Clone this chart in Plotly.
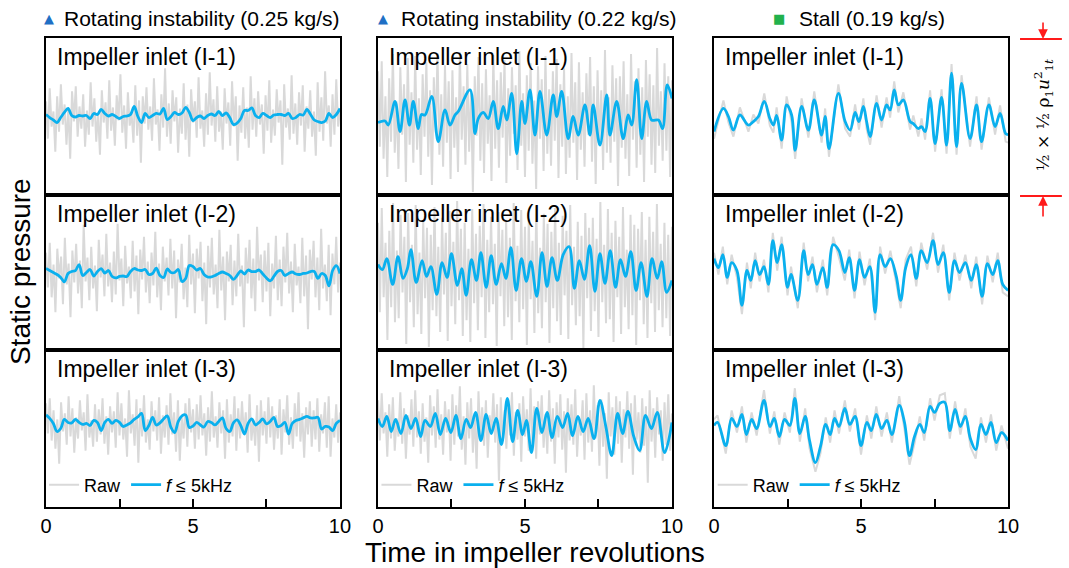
import numpy as np
import plotly.graph_objects as go
from plotly.subplots import make_subplots

# ---------------- data (units: fraction of panel scale, 0 = panel centre) ----------------
COL_TITLES = ["Rotating instability (0.25 kg/s)", "Rotating instability (0.22 kg/s)", "Stall (0.19 kg/s)"]
COL_MARKERS = ["\u25B2", "\u25B2", "\u25A0"]
MARKER_COLORS = ["#1F6FC5", "#1F6FC5", "#22B14C"]
ROW_LABELS = ["Impeller inlet (I-1)", "Impeller inlet (I-2)", "Impeller inlet (I-3)"]
X_TICKS = [0, 2.5, 5, 7.5, 10]
X_TICKTEXT = ["0", "", "5", "", "10"]

# column 1 (0.25 kg/s): uniform time grid
FILT_C1R1 = [0.2,-0.1,-0.35,-0.6,-0.1,0.4,0.8,0.1,-0.05,0.1,0.05,0.1,-0.2,0.3,0.2,0.7,0.3,0.05,0.2,0.0,-0.2,0.0,0.05,0.2,1.0,0.0,-0.6,0.3,-0.1,0.1,0.3,0.25,0.8,-0.3,0.0,0.4,0.2,0.35,0.9,0.4,-0.4,-0.1,0.05,-0.2,0.1,0.25,0.1,0.5,0.1,0.35,-0.1,-0.8,-0.65,-0.2,0.6,0.6,0.85,0.1,-0.1,0.3,0.1,-0.1,0.15,0.2,0.2,0.1,0.3,-0.2,-0.1,0.2,0.15,0.7,0.2,-0.35,-0.5,-0.6,-0.45,0.3,-0.1,0.2,0.8]
FILT_C1R2 = [0.4,0.2,0.0,-0.2,-0.5,-0.95,-0.1,0.1,0.2,0.8,-0.3,0.0,0.3,-0.35,0.1,0.4,-0.05,0.2,-0.4,-0.55,-0.4,-0.35,-0.4,0.1,0.4,0.25,0.2,0.3,-0.2,-0.1,0.45,-0.3,-0.5,0.35,0.0,0.0,0.3,-0.9,-0.6,0.7,0.6,0.25,0.4,-0.2,-0.45,-0.45,-0.3,-0.1,0.05,-0.1,-0.3,-0.7,-0.3,0.15,-0.15,0.25,0.1,0.1,0.25,-0.15,-0.55,-0.85,-0.4,0.1,0.2,-0.3,-0.1,0.05,-0.15,-0.2,-0.1,-0.05,0.1,0.1,-0.6,-0.1,-0.3,-1.35,0.2,0.7,-0.1]
FILT_C1R3 = [1.35,1.0,0.5,-0.3,0.0,0.9,0.6,0.55,0.9,0.6,0.4,0.5,0.3,0.8,0.6,-0.2,0.6,0.9,0.5,0.8,0.6,0.2,0.35,0.55,0.9,1.15,1.5,-0.2,0.3,1.1,0.35,0.55,0.95,1.25,0.1,-0.4,0.7,1.25,1.35,0.1,0.25,0.6,0.35,0.15,0.7,0.6,0.35,0.7,1.05,0.0,-0.3,0.55,0.85,0.3,-0.55,0.5,0.95,0.35,0.6,0.95,0.45,0.7,1.1,0.2,0.3,0.6,-0.55,0.5,0.8,0.9,1.05,1.2,1.05,1.05,1.1,-0.05,0.2,0.15,-0.2,0.5,0.8]
RAW_C1R1 = [1.5,-2.2,2.8,-1.0,0.5,-3.5,2.0,-1.5,3.2,-0.8,1.2,-2.8,0.8,-4.2,2.5,-0.5,3.0,-2.0,1.0,-1.2,2.2,-3.0,0.6,-1.8,3.4,-1.0,1.8,-2.5,0.4,-3.8,2.6,-0.6,1.4,-2.2,3.6,-1.4,0.9,-2.9,2.1,-0.4,4.2,-1.6,1.1,-3.2,2.4,-0.9,0.3,-2.6,3.1,-1.9,1.6,-4.6,2.0,-0.7,2.9,-1.3,1.0,-2.4,3.8,-0.8,0.7,-3.4,2.2,-1.1,4.8,-2.0,1.3,-2.7,2.6,-0.5,1.9,-3.6,0.8,-1.7,3.3,-2.3,1.2,-4.0,2.7,-0.6,1.5,-2.1,3.9,-1.2,0.6,-3.0,2.3,-1.8,4.4,-0.9,1.7,-2.5,3.0,-1.5,0.5,-3.3,2.8,-0.7,1.4,-2.9,3.5,-1.0,2.0,-4.4,1.1,-1.6,2.9,-2.2,0.9,-3.1,4.0,-1.3,1.8,-2.0,2.5,-0.8,1.2,-3.7,2.1,-1.4,3.6,-2.6,0.7,-1.9,2.7,-0.6,1.6,-4.8,3.2,-1.1,0.8,-2.3,4.1,-1.7,1.3,-2.8,2.4,-0.9,3.1,-3.5,1.0,-1.2,2.6,-2.0,0.5,-3.9,3.4,-1.5,1.9,-2.4,4.5,-0.7,1.1,-3.0,2.2,-1.8,3.7,-1.0,0.6]
RAW_C1R2 = [2.0,-1.5,3.0,-2.5,0.8,-4.0,2.4,-0.6,1.6,-3.2,3.5,-1.2,0.9,-4.5,2.2,-1.0,2.9,-2.1,1.2,-3.6,4.8,-0.9,1.5,-2.8,2.6,-1.6,0.7,-3.9,3.3,-0.5,1.8,-2.4,3.9,-1.4,1.0,-3.0,2.1,-2.2,4.9,-0.8,1.4,-3.4,2.7,-1.1,0.6,-2.6,3.2,-1.9,1.7,-4.2,2.3,-0.7,3.6,-2.0,1.1,-3.1,2.0,-1.3,4.1,-2.5,0.9,-3.8,2.6,-0.9,1.5,-2.3,3.4,-1.6,2.2,-4.6,1.3,-1.0,2.9,-2.7,0.5,-3.5,3.8,-1.2,1.9,-4.1,2.4,-0.6,3.1,-2.9,1.0,-5.2,2.7,-1.5,3.5,-2.2,0.8,-3.6,4.3,-1.8,1.6,-4.8,2.1,-0.9,2.8,-3.3,1.2,-2.4,3.9,-1.4,0.7,-5.5,2.5,-1.1,3.3,-2.6,1.4,-3.9,4.6,-0.8,1.8,-3.0,2.2,-1.9,3.0,-4.4,0.9,-1.6,3.7,-2.8,1.3,-3.4,2.6,-1.0,4.0,-2.1,1.1,-4.0,2.9,-1.3,0.6,-3.1,3.5,-2.4,1.7,-5.7,2.3,-0.7,3.2,-2.5,1.5,-3.8,4.4,-1.6,0.8,-2.9,2.8,-4.3,1.9,-1.2,3.6,-2.0,1.0]
RAW_C1R3 = [2.5,-0.5,3.0,-1.2,1.8,-2.0,0.9,-3.5,2.6,-0.3,1.5,-1.6,3.2,-0.8,2.0,-2.4,1.1,-1.0,2.8,-0.2,1.6,-2.2,3.4,-0.9,0.8,-1.8,2.4,-1.3,1.9,-0.6,3.0,-1.5,1.2,-2.6,2.2,-0.4,1.7,-1.9,3.6,-0.7,2.5,-1.1,1.0,-2.8,3.8,-0.5,1.4,-1.7,2.9,-3.4,2.0,-0.8,3.3,-1.4,0.9,-2.1,2.7,-0.3,1.8,-1.2,3.1,-2.5,1.3,-0.9,2.3,-1.6,3.5,-0.6,1.6,-2.3,2.8,-3.2,1.1,-1.0,2.5,-1.8,3.0,-0.4,1.9,-2.0,2.4,-1.1,3.3,-0.7,1.5,-2.7,2.1,-1.3,3.7,-0.9,1.2,-1.9,2.6,-0.5,1.8,-3.0,2.9,-1.4,1.4,-0.8,3.2,-2.2,2.0,-1.0,2.7,-0.6,1.6,-2.4,3.4,-1.2,0.9,-1.7,2.3,-3.3,2.8,-0.7,1.7,-1.5,3.1,-0.9,2.2,-2.1,1.3,-1.0,2.9,-2.6,1.9,-0.4,3.3,-1.6,1.1,-2.0,2.5,-0.8,3.6,-1.3,1.5,-2.9,2.1,-0.6,2.7,-1.8,1.8,-1.1,3.0,-2.3,1.4,-0.5,2.6,-1.9,3.2,-2.8,1.0,-0.9,2.4,-1.4,1.6]

# column 2 (0.22 kg/s)
FILT_T_C2R1 = [0,0.24,0.35,0.58,0.75,0.92,1.07,1.20,1.37,1.48,1.60,1.83,2.05,2.28,2.45,2.62,2.73,3.13,3.30,3.41,3.58,3.75,3.92,4.09,4.26,4.38,4.55,4.72,4.89,5.0,5.17,5.34,5.51,5.74,5.96,6.08,6.25,6.47,6.64,6.81,7.04,7.21,7.32,7.55,7.78,7.89,8.12,8.34,8.51,8.63,8.80,8.97,9.14,9.31,9.54,9.68,9.84,10.0]
FILT_C2R1 = [-0.6,-0.45,-0.85,1.5,-1.5,1.65,-0.85,1.5,-1.2,0.2,0.15,2.0,-2.5,0.65,-0.85,0.15,0.5,2.65,-1.7,-0.2,0.4,-0.2,1.5,-1.2,1.0,-0.35,2.3,-3.7,1.5,-0.7,2.65,-1.85,2.5,-1.85,2.15,0,2.5,-2.2,0,-1.85,1.15,-1.85,1.15,-2.85,2.15,-1.85,1.5,-2.2,0.15,-0.85,3.65,-2.2,1.5,-0.35,-0.35,-1.2,3.15,1.8]
FILT_T_C2R2 = [0,0.15,0.3,0.5,0.68,0.85,1.0,1.12,1.3,1.5,1.65,1.8,2.0,2.18,2.35,2.5,2.7,2.85,3.0,3.18,3.35,3.5,3.68,3.85,4.02,4.2,4.35,4.52,4.7,4.88,5.05,5.2,5.4,5.58,5.75,5.92,6.1,6.3,6.5,6.68,6.85,7.02,7.2,7.38,7.55,7.72,7.9,8.08,8.25,8.42,8.6,8.78,8.95,9.15,9.32,9.5,9.65,9.82,10.0]
FILT_C2R2 = [0.8,0.3,1.4,-1.2,1.6,-0.6,0.4,2.3,-1.0,1.2,-0.4,0.6,-2.2,1.0,-0.5,1.9,-1.3,0.4,-2.3,1.3,-0.8,2.0,-1.5,1.7,-1.2,0.9,-0.6,2.5,-1.8,1.4,-0.9,1.1,-2.4,2.0,-1.4,1.5,-0.8,1.8,2.6,-1.6,1.2,-0.7,2.7,-1.9,1.9,-1.1,2.2,-1.5,1.3,-0.4,2.1,-1.8,1.0,-2.4,1.4,-0.6,1.1,-2.0,-0.8]
FILT_T_C2R3 = [0,0.15,0.3,0.45,0.6,0.78,0.95,1.12,1.28,1.45,1.6,1.78,1.95,2.12,2.3,2.48,2.65,2.82,3.0,3.15,3.32,3.5,3.68,3.85,4.02,4.2,4.4,4.58,4.75,4.92,5.05,5.22,5.4,5.58,5.75,5.92,6.1,6.28,6.45,6.62,6.8,6.98,7.15,7.35,7.55,7.75,7.95,8.15,8.32,8.5,8.7,8.9,9.1,9.3,9.5,9.75,10.0]
FILT_C2R3 = [1.0,0.2,1.2,-0.3,0.9,-0.5,1.3,0.0,1.0,-0.8,0.8,0.2,1.5,-0.6,1.0,-0.4,1.3,-1.0,0.9,0.1,1.6,-1.2,1.4,-0.5,1.0,-1.6,3.0,-1.3,1.8,-0.6,0.8,-2.4,2.0,-0.4,1.6,-0.9,1.2,0.1,1.5,-0.7,1.2,-0.3,1.0,-1.0,2.8,0.2,-2.7,1.5,-0.5,1.7,-0.8,-2.2,1.3,0.0,1.6,-2.4,0.6]
RAW_C2R1 = [4.5,-3.0,5.5,-4.2,2.0,-6.0,3.8,-2.5,6.2,-3.6,1.5,-5.2,4.9,-1.8,3.2,-6.5,5.8,-2.8,2.4,-4.6,6.0,-3.3,1.8,-5.8,4.2,-2.0,5.4,-4.0,2.6,-6.8,3.9,-1.6,6.3,-3.8,2.2,-5.0,5.1,-2.6,3.5,-6.2,4.6,-3.1,1.9,-5.5,6.4,-2.3,3.0,-4.8,5.2,-3.5,2.5,-7.5,4.0,-1.9,5.9,-4.4,3.3,-5.6,4.7,-2.7,2.1,-6.4,6.1,-3.2,3.6,-5.1,4.4,-2.1,5.6,-6.6,2.8,-3.9,4.9,-1.7,3.1,-5.3,6.5,-2.9,2.3,-6.0,4.1,-3.4,5.3,-4.7,1.6,-7.2,5.0,-2.2,3.7,-5.4,6.0,-3.7,2.7,-4.9,4.5,-2.4,5.7,-6.1,3.2,-3.0,4.8,-5.7,2.0,-4.1,6.3,-2.6,3.4,-6.3,5.4,-3.3,2.4,-5.0,4.3,-1.8,5.9,-4.5,3.0,-6.7,4.6,-2.8,2.6,-5.3,6.6,-3.6,1.9,-4.6,5.1,-2.5,3.8,-6.9,4.0,-3.1,5.5,-4.2,2.2,-5.9,6.2,-2.3,3.5,-5.1,4.8,-3.8,2.9,-6.5,5.6,-2.0,4.2,-4.8,3.1,-5.6,6.8,-2.9,2.5,-4.4,5.3,-3.4,4.0,-6.0,3.6]
RAW_C2R2 = [5.0,-4.0,6.5,-2.5,3.0,-6.8,4.2,-3.5,7.0,-5.0,2.2,-4.6,5.8,-2.0,3.6,-7.2,6.0,-3.0,2.8,-5.5,6.8,-4.2,2.0,-6.2,5.2,-2.6,4.5,-7.5,3.8,-3.8,6.6,-4.4,2.6,-6.0,5.5,-2.2,4.0,-6.9,6.2,-3.4,3.1,-5.2,7.2,-2.8,4.4,-6.4,5.0,-4.8,2.4,-7.0,6.4,-3.1,3.9,-5.8,4.7,-2.5,6.9,-6.6,3.3,-4.0,5.6,-3.2,2.9,-7.4,6.1,-2.4,4.3,-5.4,5.3,-4.5,3.5,-6.8,7.0,-2.9,2.7,-5.0,6.3,-3.7,4.6,-7.3,5.4,-2.7,3.2,-6.1,6.7,-4.1,2.5,-5.6,5.9,-3.0,4.9,-7.1,4.1,-3.6,6.5,-4.9,3.0,-6.3,5.7,-2.3,4.2,-6.7,6.8,-3.3,2.6,-5.3,5.1,-4.4,3.7,-7.6,6.0,-2.6,4.5,-5.9,5.5,-3.9,3.4,-6.5,7.1,-3.0,2.8,-5.1,6.4,-4.7,4.0,-7.0,5.2,-2.5,3.6,-6.2,6.6,-3.5,2.3,-5.7,5.8,-4.3,4.8,-7.3,4.4,-2.8,6.1,-5.2,3.3,-6.6,5.6,-3.1,4.1,-6.0,6.9,-3.8,2.9,-5.5,5.0,-4.6,3.8,-6.4,4.6]
RAW_C2R3 = [2.8,-1.2,3.5,-0.5,1.6,-2.8,2.4,-1.0,3.1,-2.2,1.0,-0.8,3.6,-1.5,2.0,-3.0,1.3,-0.6,2.9,-1.8,3.8,-0.9,1.7,-2.5,2.5,-1.3,1.1,-3.4,3.3,-0.7,2.2,-1.9,3.9,-1.1,1.4,-2.6,2.7,-0.4,1.9,-3.2,3.4,-1.6,2.3,-0.8,4.2,-2.1,1.2,-3.6,2.6,-1.0,3.0,-2.4,1.5,-4.0,3.7,-0.9,2.1,-1.7,2.8,-2.9,1.3,-0.5,3.5,-1.4,2.4,-5.2,3.1,-1.2,1.8,-2.0,2.9,-0.7,3.6,-2.7,1.6,-1.1,2.5,-3.3,3.2,-0.8,1.9,-2.2,4.0,-1.5,2.2,-3.0,2.7,-0.6,3.3,-1.9,1.4,-2.5,3.8,-1.3,2.0,-3.5,2.6,-0.9,3.4,-2.1,1.7,-4.4,3.0,-1.2,2.4,-1.6,3.9,-2.8,1.1,-0.7,2.8,-3.1,3.5,-1.4,1.8,-2.3,4.3,-1.0,2.3,-3.7,2.9,-1.8,1.5,-5.0,3.6,-0.8,2.1,-2.6,3.2,-1.5,2.7,-3.4,1.9,-0.9,3.7,-2.0,2.5,-4.6,3.3,-1.1,1.6,-2.4,3.0,-1.7,2.2,-5.4,3.8,-1.3,2.0,-2.9,3.1,-0.6,1.8,-3.2,2.6,-1.6,3.4,-2.2,1.5]

# column 3 (0.19 kg/s, stall): raw sampled at the same instants as the filtered peaks
FILT_T_C3R1 = [0,0.32,0.49,0.66,0.88,1.17,1.34,1.51,1.71,1.90,2.02,2.13,2.30,2.47,2.64,2.76,2.98,3.21,3.41,3.66,3.78,3.91,4.23,4.46,4.63,4.80,4.93,5.08,5.19,5.31,5.53,5.70,5.87,5.99,6.13,6.27,6.44,6.67,6.78,6.95,7.06,7.18,7.35,7.52,7.74,7.91,8.08,8.25,8.42,8.71,8.93,9.10,9.35,9.56,9.73,9.92,10.0]
FILT_C3R1 = [-1.5,0.8,0.0,-1.35,0.15,-0.85,-0.5,0.0,1.5,-0.2,-0.85,0.1,-2.35,1.15,0.15,-3.35,1.0,-1.35,1.65,-1.85,0.0,-3.2,2.3,-0.5,-1.35,0.4,-0.5,1.0,-0.5,-2.0,1.3,-0.35,1.15,0.65,2.65,1.15,1.65,-0.5,-0.7,-1.2,-1.0,-1.5,1.8,-2.7,1.9,-2.85,4.3,-3.0,3.3,-2.2,1.15,-2.5,1.15,-1.0,0.3,-1.7,-1.8]
RAW_C3R1 = [-2.2,1.6,-0.6,-2.0,0.9,-1.5,0.2,-0.7,2.3,-0.9,-1.6,0.9,-3.2,2.0,-0.6,-4.2,1.8,-2.1,2.5,-2.6,0.8,-4.0,3.2,-1.2,-2.0,1.2,-1.3,1.8,-1.2,-2.8,2.1,-1.1,1.9,-0.1,3.5,0.4,2.4,-1.3,0.1,-2.0,-0.2,-2.3,2.6,-3.5,2.7,-3.7,5.2,-3.8,4.1,-3.0,2.0,-3.3,1.9,-1.8,1.1,-2.5,-2.6]
FILT_T_C3R2 = [0,0.15,0.3,0.45,0.6,0.78,0.95,1.12,1.25,1.4,1.55,1.7,1.85,2.0,2.15,2.3,2.5,2.62,2.85,3.05,3.2,3.35,3.5,3.7,3.85,4.05,4.25,4.45,4.6,4.78,4.95,5.12,5.3,5.48,5.65,5.82,6.0,6.2,6.35,6.52,6.7,6.88,7.05,7.25,7.45,7.62,7.8,8.0,8.18,8.35,8.55,8.75,8.92,9.12,9.3,9.48,9.65,9.82,10.0]
FILT_C3R2 = [1.4,0.5,1.8,-0.5,1.0,0.2,-3.3,0.2,-0.8,1.2,-0.2,0.6,-1.2,3.2,1.0,2.8,-1.5,-0.2,-2.8,2.2,-0.2,0.8,-1.2,0.5,-1.5,2.8,2.2,0.0,1.5,-1.8,1.3,-0.5,0.6,-4.0,1.8,0.6,1.4,-0.4,-2.8,0.5,1.8,-0.6,2.2,1.0,3.2,0.8,2.0,-2.0,1.2,0.0,1.0,-0.8,0.8,-2.4,0.9,-0.2,1.2,-1.2,-1.8]
RAW_C3R2 = [2.0,-0.2,2.6,-1.2,1.8,-0.5,-4.2,1.0,-1.6,2.0,-0.9,1.3,-2.0,4.0,0.2,3.6,-2.3,0.6,-3.6,3.0,-0.9,1.6,-2.0,1.3,-2.3,3.6,1.5,-0.8,2.3,-2.6,2.1,-1.3,1.4,-4.8,2.6,-0.1,2.2,-1.2,-3.6,1.3,2.6,-1.4,3.0,0.3,4.0,0.0,2.8,-2.8,2.0,-0.8,1.8,-1.6,1.6,-3.2,1.7,-1.0,2.0,-2.0,-2.4]
FILT_T_C3R3 = [0,0.12,0.4,0.6,0.78,0.95,1.1,1.28,1.45,1.7,1.9,2.05,2.22,2.4,2.58,2.75,2.92,3.1,3.25,3.45,3.62,3.8,3.95,4.1,4.25,4.45,4.62,4.8,5.0,5.2,5.35,5.52,5.7,5.88,6.05,6.3,6.48,6.65,6.82,7.0,7.15,7.35,7.5,7.68,7.85,8.02,8.2,8.38,8.55,8.72,8.9,9.08,9.25,9.42,9.6,9.78,10.0]
FILT_C3R3 = [0.3,0.6,-1.7,1.0,0.2,1.4,-0.6,0.9,0.0,2.8,0.2,1.0,-0.8,0.9,0.3,3.0,-0.5,1.2,-1.2,-3.4,-1.8,0.4,-0.6,1.0,0.2,2.0,0.4,1.2,-1.7,0.6,-0.2,1.4,0.0,0.8,-0.6,2.3,0.6,-2.7,-0.8,0.4,-0.4,2.2,1.6,2.5,2.6,-0.2,1.9,0.2,1.2,-1.0,-2.1,0.4,-0.6,0.6,-1.4,-0.4,-1.2]
RAW_C3R3 = [0.9,1.3,-2.5,1.8,-0.4,2.2,-1.4,1.6,-0.7,3.8,-0.5,1.7,-1.6,1.6,-0.4,4.0,-1.3,2.0,-2.0,-4.3,-2.5,1.1,-1.4,1.8,-0.5,2.8,-0.3,2.0,-2.6,1.3,-1.0,2.2,-0.8,1.6,-1.4,3.2,-0.1,-3.6,-1.5,1.2,-1.2,3.0,0.8,3.3,3.5,-1.0,2.7,-0.6,2.0,-1.8,-3.0,1.1,-1.4,1.4,-2.2,0.3,-2.0]

# ---------------- figure ----------------
def grid(v):
    return np.linspace(0, 10, len(v))

panels = {
    (1, 1): (grid(RAW_C1R1), RAW_C1R1, grid(FILT_C1R1), FILT_C1R1),
    (2, 1): (grid(RAW_C1R2), RAW_C1R2, grid(FILT_C1R2), FILT_C1R2),
    (3, 1): (grid(RAW_C1R3), RAW_C1R3, grid(FILT_C1R3), FILT_C1R3),
    (1, 2): (grid(RAW_C2R1), RAW_C2R1, FILT_T_C2R1, FILT_C2R1),
    (2, 2): (grid(RAW_C2R2), RAW_C2R2, FILT_T_C2R2, FILT_C2R2),
    (3, 2): (grid(RAW_C2R3), RAW_C2R3, FILT_T_C2R3, FILT_C2R3),
    (1, 3): (FILT_T_C3R1, RAW_C3R1, FILT_T_C3R1, FILT_C3R1),
    (2, 3): (FILT_T_C3R2, RAW_C3R2, FILT_T_C3R2, FILT_C3R2),
    (3, 3): (FILT_T_C3R3, RAW_C3R3, FILT_T_C3R3, FILT_C3R3),
}

GRAY = "#D9D9D9"
BLUE = "#0AB0EE"
FONT = "Liberation Sans, Arial, sans-serif"

fig = make_subplots(rows=3, cols=3, horizontal_spacing=0.04, vertical_spacing=0)
legend_ids = ["legend", "legend2", "legend3"]

for (r, c), (tr, vr, tf, vf) in panels.items():
    show = (r == 3)
    fig.add_trace(go.Scatter(x=tr, y=vr, mode="lines", name="Raw",
                             line=dict(color=GRAY, width=2), legend=legend_ids[c - 1],
                             showlegend=show), row=r, col=c)
    fig.add_trace(go.Scatter(x=tf, y=vf, mode="lines", name="<i>f</i> \u2264 5kHz",
                             line=dict(color=BLUE, width=2.8, shape="spline", smoothing=1.0),
                             legend=legend_ids[c - 1], showlegend=show), row=r, col=c)

col_domains = [[0.0, 0.3056], [0.3451, 0.6507], [0.6944, 1.0]]
row_domains = [[0.6652, 1.0], [0.3348, 0.6652], [0.0, 0.3348]]

for c in range(1, 4):
    fig.update_xaxes(domain=col_domains[c - 1], col=c)
for r in range(1, 4):
    fig.update_yaxes(domain=row_domains[r - 1], row=r)

fig.update_xaxes(range=[0, 10], showgrid=False, zeroline=False, showline=True, mirror=True,
                 linecolor="black", linewidth=1.5, tickvals=X_TICKS, ticktext=X_TICKTEXT)
fig.update_xaxes(ticks="", showticklabels=False, row=1)
fig.update_xaxes(ticks="", showticklabels=False, row=2)
fig.update_xaxes(ticks="inside", ticklen=8, tickwidth=1.5, tickcolor="black",
                 showticklabels=True, tickfont=dict(size=20, color="black"), row=3)
fig.update_yaxes(range=[-7.8, 7.8], showgrid=False, zeroline=False, showline=True, mirror=True,
                 linecolor="black", linewidth=1.5, ticks="", showticklabels=False)

annotations = []
title_marker_x = [0.0031, 0.3503, 0.762]
title_text_x = [0.0166, 0.3669, 0.7807]
for i in range(3):
    annotations.append(dict(xref="paper", yref="paper", x=title_marker_x[i], y=1.041,
                            text=COL_MARKERS[i], showarrow=False, xanchor="center", yanchor="middle",
                            font=dict(size=13, color=MARKER_COLORS[i], family="DejaVu Sans")))
    annotations.append(dict(xref="paper", yref="paper", x=title_text_x[i], y=1.041,
                            text=COL_TITLES[i], showarrow=False, xanchor="left", yanchor="middle",
                            font=dict(size=21, color="black")))

for (r, c) in panels:
    n = (r - 1) * 3 + c
    suffix = "" if n == 1 else str(n)
    annotations.append(dict(xref=f"x{suffix} domain", yref=f"y{suffix} domain", x=0.03, y=0.879,
                            text=ROW_LABELS[r - 1], showarrow=False, xanchor="left", yanchor="middle",
                            font=dict(size=23, color="black")))

annotations.append(dict(xref="paper", yref="paper", x=-0.027, y=0.501, text="Static pressure",
                        textangle=-90, showarrow=False, xanchor="center", yanchor="middle",
                        font=dict(size=28, color="black")))
annotations.append(dict(xref="paper", yref="paper", x=0.508, y=-0.098, text="Time in impeller revolutions",
                        showarrow=False, xanchor="center", yanchor="middle",
                        font=dict(size=28, color="black")))

# scale bar: one panel height = 1/2 x 1/2 rho u^2
RED = "#FF1A1A"
annotations.append(dict(xref="paper", yref="paper", x=1.0364, y=0.998, ax=0, ay=-18, text="",
                        showarrow=True, arrowhead=2, arrowsize=1.2, arrowwidth=1.6, arrowcolor=RED))
annotations.append(dict(xref="paper", yref="paper", x=1.0364, y=0.663, ax=0, ay=22, text="",
                        showarrow=True, arrowhead=2, arrowsize=1.2, arrowwidth=1.6, arrowcolor=RED))
annotations.append(dict(xref="paper", yref="paper", x=1.037, y=0.835,
                        text="\u00BD \u00D7 \u00BD \u03C1<sub>1</sub><i>u</i><sup>2</sup><sub>1<i>t</i></sub>",
                        textangle=-90, showarrow=False, xanchor="center", yanchor="middle",
                        font=dict(size=17, color="black", family="DejaVu Serif, Liberation Serif, serif")))

shapes = [
    dict(type="line", xref="paper", yref="paper", x0=1.0125, x1=1.056, y0=0.998, y1=0.998,
         line=dict(color=RED, width=2)),
    dict(type="line", xref="paper", yref="paper", x0=1.0125, x1=1.056, y0=0.663, y1=0.663,
         line=dict(color=RED, width=2)),
]

legend_x = [-0.002, 0.3435, 0.693]
leg_common = dict(orientation="h", y=0.047, yanchor="middle", xanchor="left",
                  bgcolor="rgba(0,0,0,0)", font=dict(size=18, color="black"),
                  itemwidth=30, tracegroupgap=0)
fig.update_layout(
    width=1069, height=568,
    margin=dict(l=46, r=61, t=38, b=61),
    paper_bgcolor="white", plot_bgcolor="white",
    font=dict(family=FONT, color="black"),
    annotations=annotations, shapes=shapes,
    legend=dict(x=legend_x[0], **leg_common),
    legend2=dict(x=legend_x[1], **leg_common),
    legend3=dict(x=legend_x[2], **leg_common),
)

fig.write_html("out.html", config={"displayModeBar": False},
               post_script="document.body.style.margin='0';document.body.style.padding='0';")
